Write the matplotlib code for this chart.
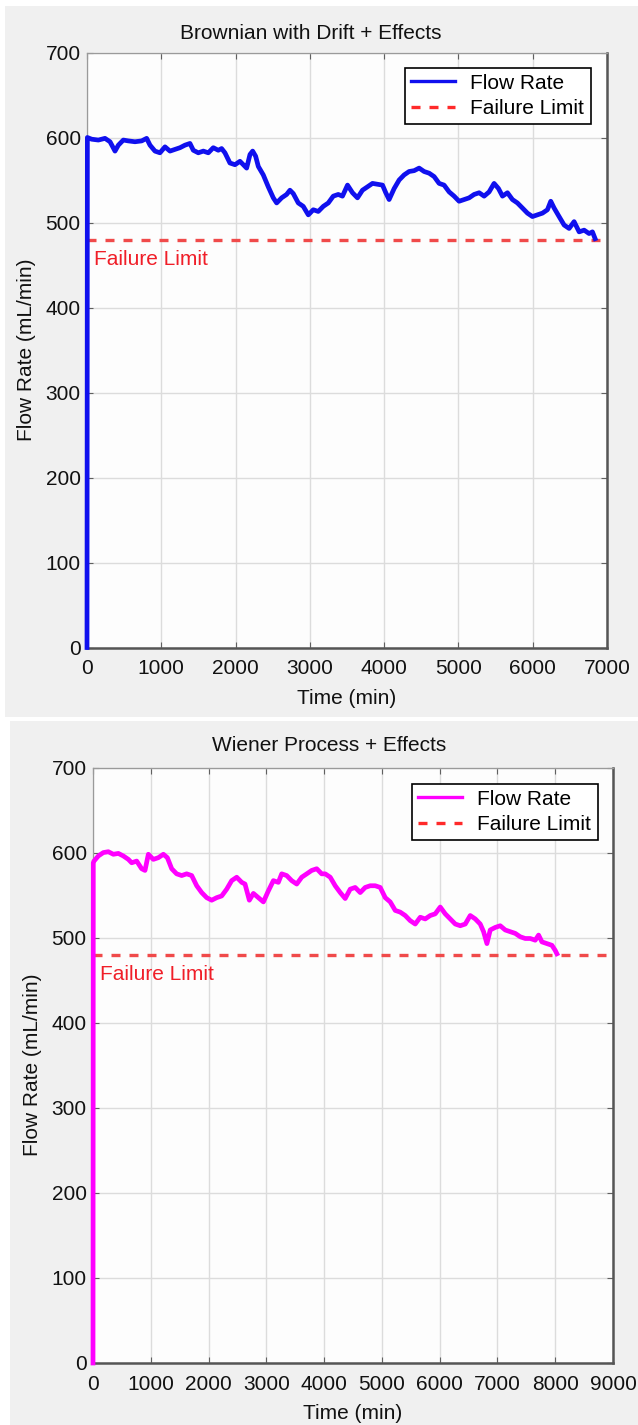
import numpy as np
import matplotlib
matplotlib.use("Agg")
import matplotlib.pyplot as plt
from matplotlib.patches import Rectangle
from matplotlib.lines import Line2D
from matplotlib import transforms, font_manager

# ---------------- data ----------------
brown_time = [0, 5, 63, 153, 242, 310, 377, 422, 489, 556, 646, 736, 803, 848, 915, 982,
              1050, 1117, 1184, 1252, 1319, 1386, 1431, 1498, 1566, 1633, 1700, 1767, 1812,
              1857, 1924, 1992, 2059, 2104, 2149, 2194, 2230, 2270, 2306, 2373, 2440, 2508,
              2553, 2620, 2687, 2732, 2777, 2844, 2911, 2979, 3046, 3113, 3181, 3248, 3315,
              3382, 3439, 3507, 3574, 3641, 3708, 3776, 3843, 3910, 3978, 4022, 4067, 4135,
              4202, 4269, 4336, 4404, 4471, 4538, 4606, 4673, 4740, 4807, 4875, 4942, 5009,
              5077, 5144, 5211, 5279, 5346, 5413, 5480, 5539, 5593, 5660, 5727, 5794, 5862,
              5929, 5996, 6063, 6131, 6198, 6243, 6288, 6355, 6423, 6490, 6557, 6625, 6692,
              6759, 6804, 6840]
brown_flow = [0, 600, 598, 597, 599, 595, 584, 591, 597, 596, 595, 596, 599, 591, 584, 582,
              589, 584, 586, 588, 591, 593, 585, 582, 584, 582, 588, 585, 587,
              582, 570, 568, 572, 568, 564, 580, 584, 578, 566, 556, 542, 529,
              523, 529, 533, 538, 534, 523, 519, 509, 515, 513, 519, 523, 531,
              533, 531, 544, 535, 529, 538, 542, 546, 545, 544, 535, 527, 540,
              550, 556, 560, 561, 564, 560, 558, 554, 546, 544, 536, 531, 525,
              527, 529, 533, 535, 531, 536, 546, 540, 531, 535, 527, 523, 517,
              511, 507, 509, 511, 515, 525, 517, 507, 497, 493, 501, 489, 491,
              487, 489, 481]

wiener_time = [0, 5, 17, 92, 179, 265, 352, 439, 525, 612, 669, 756, 842, 900, 958, 1044,
               1131, 1218, 1287, 1362, 1448, 1535, 1621, 1708, 1795, 1881, 1968, 2054, 2141,
               2227, 2314, 2400, 2487, 2574, 2631, 2706, 2776, 2862, 2949, 3035, 3122, 3208,
               3266, 3352, 3439, 3526, 3612, 3699, 3785, 3872, 3958, 4019, 4106, 4192, 4279,
               4365, 4452, 4538, 4625, 4711, 4798, 4885, 4971, 5058, 5144, 5231, 5317, 5404,
               5490, 5577, 5664, 5750, 5837, 5923, 6010, 6096, 6183, 6270, 6356, 6443, 6529,
               6616, 6702, 6760, 6818, 6875, 6962, 7048, 7135, 7221, 7308, 7395, 7481, 7568,
               7654, 7712, 7770, 7856, 7943, 8000, 8029]
wiener_flow = [0, 588, 590, 596, 600, 601, 598, 599, 596, 592, 588, 590, 581, 579, 598, 592,
               594, 598, 594, 581, 575, 573, 575, 573, 561, 553, 547, 544, 547,
               549, 557, 567, 571, 565, 563, 544, 552, 547, 542, 555, 567, 565,
               575, 573, 567, 563, 571, 575, 579, 581, 575, 575, 571, 561, 553,
               546, 557, 559, 553, 559, 561, 561, 559, 547, 542, 532, 530, 526,
               520, 516, 524, 522, 526, 528, 536, 528, 522, 516, 514, 516, 526,
               522, 516, 507, 493, 509, 512, 514, 509, 507, 505, 501, 499, 499,
               497, 503, 495, 493, 491, 485, 481]

failure_limit = 480
y_ticks = list(range(0, 701, 100))
titles = ["Brownian with Drift + Effects", "Wiener Process + Effects"]
legend_labels = ["Flow Rate", "Failure Limit"]

# ---------------- style ----------------
names = {f.name for f in font_manager.fontManager.ttflist}
if "Liberation Sans Narrow" in names:
    FONT, FS = "Liberation Sans Narrow", 17
else:
    FONT, FS = "Liberation Sans", 15
plt.rcParams["font.family"] = [FONT, "DejaVu Sans"]

W, H = 638, 1425
fig = plt.figure(figsize=(W / 100, H / 100), dpi=100, facecolor="white")


def fx(px):
    return px / W


def fy(py):
    return 1 - py / H


# gray panel backgrounds
fig.add_artist(Rectangle((fx(5), fy(717)), fx(638) - fx(5), fy(6) - fy(717),
                         transform=fig.transFigure, facecolor="#f0f0f0",
                         edgecolor="none", zorder=-10))
fig.add_artist(Rectangle((fx(10), fy(1425)), fx(638) - fx(10), fy(721) - fy(1425),
                         transform=fig.transFigure, facecolor="#f0f0f0",
                         edgecolor="none", zorder=-10))

ax1 = fig.add_axes([fx(87), fy(647.5), 520 / W, 595 / H])
ax2 = fig.add_axes([fx(93), fy(1363), 520 / W, 595.5 / H])

LIMIT_COLOR = "#f04a4a"


def panel(ax, t, v, color, xmax, title, title_x, title_top, leg_right, leg_top):
    ax.set_facecolor("#fdfdfd")
    ax.plot(t, v, color=color, lw=3.4, solid_joinstyle="round", zorder=3, clip_on=False)
    ax.axhline(failure_limit, color=LIMIT_COLOR, lw=2.4, dashes=(2.7, 2.7), zorder=2)
    ax.set_xlim(0, xmax)
    ax.set_ylim(0, 700)
    ax.set_xticks(np.arange(0, xmax + 1, 1000))
    ax.set_yticks(y_ticks)
    ax.grid(True, color="#dcdcdc", lw=1.0)
    ax.set_axisbelow(True)
    ax.tick_params(direction="in", length=4, width=0.8, color="#606060",
                   top=True, right=True, labelsize=FS, labelcolor="#111111")
    ax.tick_params(axis="x", pad=8.5)
    ax.tick_params(axis="y", pad=4.5)
    for s in ["top", "left"]:
        ax.spines[s].set_color("#9a9a9a")
        ax.spines[s].set_linewidth(0.9)
    for s in ["bottom", "right"]:
        ax.spines[s].set_color("#555555")
        ax.spines[s].set_linewidth(1.8)

    ax.set_xlabel("Time (min)", fontsize=FS, va="top", color="#111111")
    ax.xaxis.set_label_coords(0.5, -41 / 595)
    ax.set_ylabel("Flow Rate (mL/min)", fontsize=FS, va="center", color="#111111")
    ax.yaxis.set_label_coords(-0.117, 0.5)

    tr = transforms.blended_transform_factory(ax.transAxes, ax.transData)
    ax.text(0.0127, 457, "Failure Limit", transform=tr, color="#f01e28",
            fontsize=FS, va="center", ha="left", zorder=4)

    fig.text(fx(title_x), fy(title_top), title, ha="center", va="top",
             fontsize=FS, color="#111111")

    handles = [Line2D([], [], color=color, lw=2.4),
               Line2D([], [], color="#ff2a2a", lw=2.4, dashes=(2.7, 2.7))]
    leg = ax.legend(handles, legend_labels, loc="upper right",
                    bbox_to_anchor=(fx(leg_right), fy(leg_top)),
                    bbox_transform=fig.transFigure, borderaxespad=0,
                    frameon=True, fancybox=False, edgecolor="black", framealpha=1,
                    fontsize=FS, handlelength=2.1, handletextpad=0.75,
                    borderpad=0.3, labelspacing=0.3)
    leg.get_frame().set_linewidth(1.2)
    leg.get_frame().set_facecolor("white")


panel(ax1, brown_time, brown_flow, "#1010ee", 7000, titles[0], 310.5, 24, 590.5, 67.5)
panel(ax2, wiener_time, wiener_flow, "#ff00ff", 9000, titles[1], 329.5, 736, 597.5, 783.5)

fig.savefig("out.png", dpi=100, facecolor="white")
